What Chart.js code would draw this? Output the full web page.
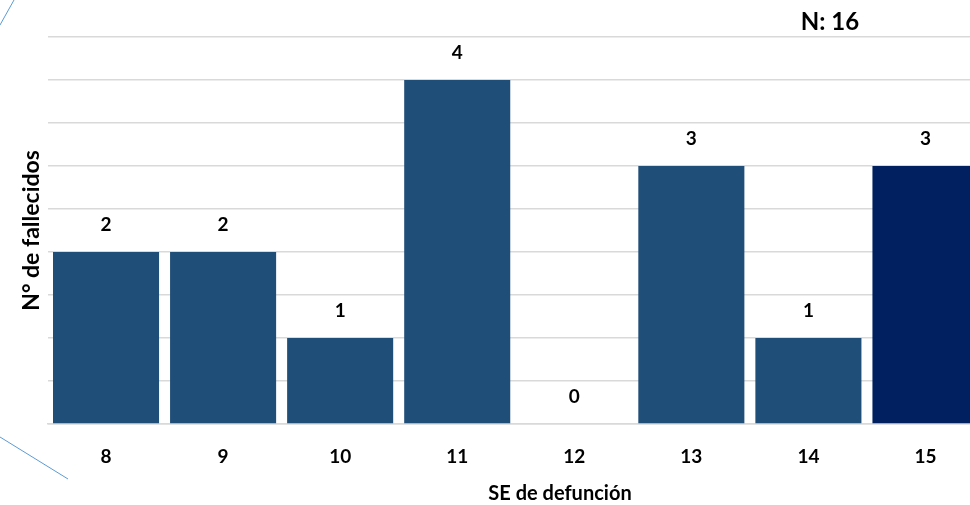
<!DOCTYPE html>
<html>
<head>
<meta charset="utf-8">
<script src="https://cdn.jsdelivr.net/npm/chart.js@4.4.1/dist/chart.umd.min.js"></script>
<style>
    html, body { margin: 0; padding: 0; background: #fff; overflow: hidden; }
    #wrap { width: 984px; height: 505px; position: relative; }
</style>
</head>
<body>
<div id="wrap"><canvas id="chart"></canvas></div>
<script>
const weeks = ['8', '9', '10', '11', '12', '13', '14', '15'];
const deaths = [2, 2, 1, 4, 0, 3, 1, 3];
const barColors = ['#1F4E79', '#1F4E79', '#1F4E79', '#1F4E79', '#1F4E79', '#1F4E79', '#1F4E79', '#002060'];
const totalText = 'N: 16';
const xTitle = 'SE de defunción';
const yTitle = 'N° de fallecidos';

const FONT = 'Lato, "Open Sans", sans-serif';

// texts and decoration drawn straight onto the canvas
const extras = {
    id: 'extras',
    afterDatasetsDraw(chart) {
        const ctx = chart.ctx;
        const meta = chart.getDatasetMeta(0);
        ctx.save();
        ctx.fillStyle = '#000';
        ctx.font = 'bold 19px ' + FONT;
        ctx.textAlign = 'center';
        ctx.textBaseline = 'middle';
        meta.data.forEach((bar, i) => {
            ctx.fillText(String(deaths[i]), bar.x, bar.y - 27);
        });
        ctx.restore();
    },
    afterDraw(chart) {
        const ctx = chart.ctx;
        const area = chart.chartArea;
        ctx.save();
        ctx.fillStyle = '#000';
        ctx.textAlign = 'center';
        ctx.textBaseline = 'middle';
        ctx.font = 'bold 20px ' + FONT;
        ctx.fillText(xTitle, 560, 494);
        ctx.save();
        ctx.translate(32, (area.top + area.bottom) / 2);
        ctx.rotate(-Math.PI / 2);
        ctx.font = 'bold 23px ' + FONT;
        ctx.fillText(yTitle, 0, 0);
        ctx.restore();
        ctx.font = 'bold 24px ' + FONT;
        ctx.fillText(totalText, 830, 22);

        ctx.strokeStyle = '#5B9BD5';
        ctx.lineWidth = 1;
        ctx.beginPath();
        ctx.moveTo(0, 25);
        ctx.lineTo(14, 0);
        ctx.moveTo(0, 437);
        ctx.lineTo(68, 479);
        ctx.stroke();
        ctx.restore();
    }
};

new Chart(document.getElementById('chart'), {
    type: 'bar',
    data: {
        labels: weeks,
        datasets: [{
            data: deaths,
            backgroundColor: barColors,
            borderWidth: 0,
            barPercentage: 0.906,
            categoryPercentage: 1,
        }]
    },
    options: {
        responsive: true,
        maintainAspectRatio: false,
        animation: false,
        layout: { padding: { top: 37, right: 0, left: 0, bottom: 0 } },
        plugins: {
            legend: { display: false },
            tooltip: { enabled: false },
        },
        scales: {
            x: {
                grid: { display: false, drawTicks: false },
                border: { display: true, color: '#D9D9D9', width: 1.5 },
                ticks: {
                    color: '#000',
                    padding: 21,
                    font: { family: FONT, size: 19, weight: 'bold' },
                },
                afterFit: s => { s.height = 81; },
            },
            y: {
                min: 0,
                max: 4.5,
                ticks: { display: false, stepSize: 0.5 },
                grid: { color: '#D9D9D9', lineWidth: 1.5, drawTicks: false },
                border: { display: false },
                afterFit: s => { s.width = 47.5; },
            }
        }
    },
    plugins: [extras]
});
</script>
</body>
</html>
